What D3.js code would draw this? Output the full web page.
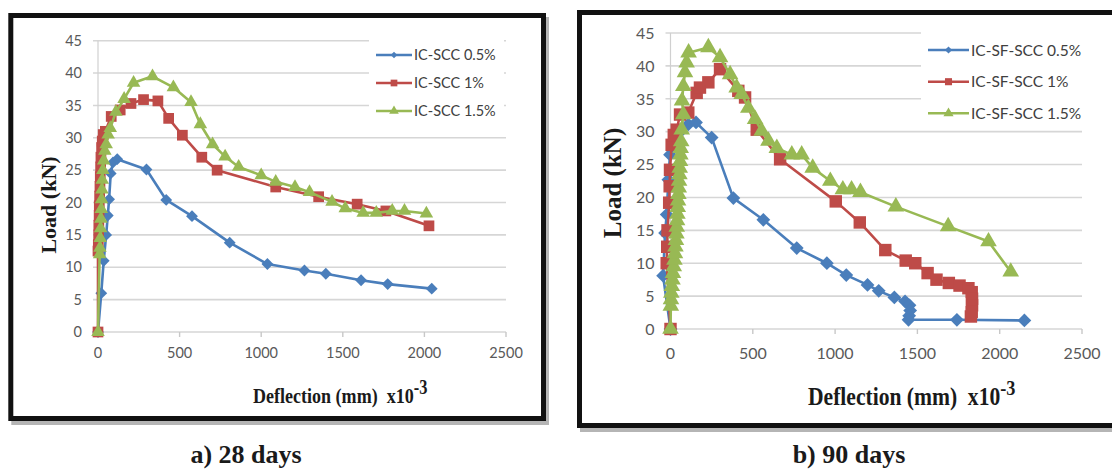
<!DOCTYPE html>
<html>
<head>
<meta charset="utf-8">
<script src="https://cdn.jsdelivr.net/npm/d3@7"></script>
<style>
  html, body { margin: 0; padding: 0; background: #fff; }
  svg { display: block; }
</style>
</head>
<body>
<svg id="chart" width="1112" height="469"></svg>
<script>
// ---------- DATA ----------
const xTickVals = [0, 500, 1000, 1500, 2000, 2500];
const yTickVals = [0, 5, 10, 15, 20, 25, 30, 35, 40, 45];

const legend28 = ["IC-SCC 0.5%", "IC-SCC 1%", "IC-SCC 1.5%"];
const legend90 = ["IC-SF-SCC 0.5%", "IC-SF-SCC 1%", "IC-SF-SCC 1.5%"];
const seriesColors = ["#4a7ebb", "#be4b48", "#98b954"];

// 28 days  [deflection x10^-3 mm, load kN]
const d28_05 = [[0,0],[20,6],[35,11],[50,15],[60,18],[68,20.5],[78,24.5],[92,26.2],[118,26.7],[297,25.1],[418,20.4],[576,17.9],[807,13.8],[1038,10.5],[1265,9.5],[1396,9.0],[1612,8.0],[1775,7.4],[2045,6.7]];
const d28_1 = [[0,0],[0,12.5],[2,13.5],[4,15],[5,16.5],[7,18],[8,19.5],[10,21],[12,22.5],[14,24],[16,25.5],[18,27],[22,28.5],[26,29.5],[32,30.5],[45,31],[81,33.3],[136,34.3],[202,35.3],[279,35.9],[367,35.7],[433,33.0],[517,30.4],[636,27.0],[730,25.0],[1089,22.4],[1352,20.9],[1588,19.75],[1764,18.7],[2028,16.4]];
const d28_15 = [[0,0],[10,12],[12,13],[14,14.5],[16,16],[18,17.5],[20,19],[22,20.5],[24,22],[26,23.5],[30,25],[35,26.5],[42,28],[50,29],[62,30.5],[75,31.5],[110,34],[160,36],[218,38.5],[334,39.5],[462,37.8],[570,35.5],[627,32.1],[702,29.0],[779,27.1],[862,25.5],[1000,24.2],[1089,23.2],[1207,22.4],[1296,21.6],[1434,20.1],[1515,19.1],[1625,18.4],[1705,18.4],[1803,18.7],[1878,18.7],[2012,18.3]];

// 90 days
const d90_05 = [[0,0],[-45,8.1],[-33,14.6],[-23,17.4],[-13,22.7],[-3,26.5],[27,28.6],[60,30],[108,31.1],[155,31.4],[250,29.1],[382,19.9],[564,16.6],[767,12.3],[950,10.0],[1068,8.2],[1197,6.7],[1265,5.8],[1360,4.8],[1425,4.2],[1452,3.6],[1456,2.8],[1450,2.0],[1446,1.4],[1740,1.4],[2150,1.3]];
const d90_1 = [[0,0],[-23,10],[-20,12.5],[-18,15],[-8,19.2],[-5,21.7],[-3,24.2],[7,28],[20,29.5],[38,30.3],[58,32.6],[108,32.9],[159,35.9],[179,36.7],[230,37.5],[301,39.5],[412,36.2],[453,35.2],[524,30.3],[666,25.8],[1004,19.4],[1150,16.2],[1305,12.0],[1429,10.4],[1487,10.0],[1562,8.5],[1616,7.5],[1691,7.0],[1756,6.6],[1810,6.2],[1830,5.6],[1832,4.6],[1832,3.6],[1830,2.6],[1825,1.9]];
const d90_15 = [[0,0],[2,3.5],[3,4.5],[5,5.5],[8,6.5],[12,7.5],[15,8.5],[20,9.5],[24,10.5],[27,11.5],[30,12.5],[33,13.5],[36,14.5],[38,15.5],[40,16.5],[42,17.5],[44,18.5],[46,19.5],[48,20.5],[50,21.5],[52,22.5],[54,23.5],[56,24.5],[58,25.5],[60,26.5],[62,27.5],[65,28.5],[68,30.3],[78,32.6],[70,34.7],[78,36.9],[88,39],[98,40.5],[110,42],[230,42.8],[301,41.3],[362,38.7],[402,36.7],[433,35.7],[473,33.6],[514,31.9],[554,30.1],[595,28.6],[646,27.5],[737,26.5],[797,26.5],[864,24.5],[971,22.5],[1047,21.2],[1100,21.2],[1154,20.8],[1369,18.6],[1687,15.6],[1932,13.3],[2067,8.7]];

// ---------- DRAW ----------
const svg = d3.select("#chart");
svg.append("rect").attr("width", 1112).attr("height", 469).attr("fill", "#fff");

const symbolTypes = [d3.symbolSquare, d3.symbolSquare, d3.symbolTriangle];
const symbolRot = [45, 0, 0];

function drawPanel(cfg) {
  const g = svg.append("g");
  // frame shadow + frame
  g.append("rect")
    .attr("x", cfg.frame[0] + 3).attr("y", cfg.frame[1] + 4)
    .attr("width", cfg.frame[2] - cfg.frame[0]).attr("height", cfg.frame[3] - cfg.frame[1])
    .attr("fill", "none").attr("stroke", "#b5b5b5").attr("stroke-width", 5);
  g.append("rect")
    .attr("x", cfg.frame[0]).attr("y", cfg.frame[1])
    .attr("width", cfg.frame[2] - cfg.frame[0]).attr("height", cfg.frame[3] - cfg.frame[1])
    .attr("fill", "#fff").attr("stroke", "#111").attr("stroke-width", 5);

  const x = d3.scaleLinear().domain([0, 2500]).range([cfg.x0, cfg.x1]);
  const y = d3.scaleLinear().domain([0, 45]).range([cfg.y0, cfg.y1]);

  // gridlines
  g.append("g").selectAll("line").data(yTickVals).join("line")
    .attr("x1", cfg.x0 - 5).attr("x2", cfg.x1)
    .attr("y1", d => y(d)).attr("y2", d => y(d))
    .attr("stroke", "#d6d6d6").attr("stroke-width", 1.6);
  // y axis line
  g.append("line").attr("x1", cfg.x0).attr("x2", cfg.x0)
    .attr("y1", y(0)).attr("y2", y(45)).attr("stroke", "#d0d0d0").attr("stroke-width", 1.2);
  // x ticks
  g.append("g").selectAll("line").data(xTickVals).join("line")
    .attr("x1", d => x(d)).attr("x2", d => x(d))
    .attr("y1", y(0)).attr("y2", y(0) + 5)
    .attr("stroke", "#c8c8c8").attr("stroke-width", 1.4);

  // tick labels
  g.append("g").selectAll("text").data(yTickVals).join("text")
    .attr("x", cfg.x0 - cfg.yLabGap).attr("y", d => y(d))
    .attr("dy", "0.36em").attr("text-anchor", "end")
    .attr("font-family", "Lato, 'Noto Sans', sans-serif")
    .attr("font-size", cfg.tickFont).attr("fill", "#595959")
    .text(d => d);
  g.append("g").selectAll("text").data(xTickVals).join("text")
    .attr("x", d => x(d)).attr("y", cfg.xLabY)
    .attr("dy", "0.36em").attr("text-anchor", "middle")
    .attr("font-family", "Lato, 'Noto Sans', sans-serif")
    .attr("font-size", cfg.tickFont).attr("fill", "#595959")
    .text(d => d);

  // series
  const line = d3.line().x(d => x(d[0])).y(d => y(d[1]));
  cfg.series.forEach((s, i) => {
    g.append("path").datum(s).attr("d", line)
      .attr("fill", "none").attr("stroke", seriesColors[i])
      .attr("stroke-width", 2.6).attr("stroke-linejoin", "round");
    const sym = d3.symbol().type(symbolTypes[i]).size(cfg.markerSizes[i]);
    g.append("g").selectAll("path").data(s).join("path")
      .attr("d", sym)
      .attr("transform", d => `translate(${x(d[0])},${y(d[1])}) rotate(${symbolRot[i]})`)
      .attr("fill", seriesColors[i]);
  });

  // legend
  g.append("rect").attr("x", cfg.legBox[0]).attr("y", cfg.legBox[1])
    .attr("width", cfg.legBox[2]).attr("height", cfg.legBox[3]).attr("fill", "#fff");
  cfg.legend.forEach((name, i) => {
    const ly = cfg.legY[i];
    g.append("line").attr("x1", cfg.legX).attr("x2", cfg.legX + cfg.legLen)
      .attr("y1", ly).attr("y2", ly).attr("stroke", seriesColors[i]).attr("stroke-width", 2.6);
    const sym = d3.symbol().type(symbolTypes[i]).size(cfg.legMarker[i]);
    g.append("path").attr("d", sym)
      .attr("transform", `translate(${cfg.legX + cfg.legLen / 2},${ly}) rotate(${symbolRot[i]})`)
      .attr("fill", seriesColors[i]);
    g.append("text").attr("x", cfg.legX + cfg.legLen + 2).attr("y", ly).attr("dy", "0.36em")
      .attr("font-family", "Lato, 'Noto Sans', sans-serif")
      .attr("font-size", cfg.legFont).attr("fill", "#404040").text(name);
  });

  // x axis title
  const xt = g.append("text")
    .attr("transform", `translate(${cfg.xTitle[0]},${cfg.xTitle[1]}) scale(${cfg.titleSX},1)`)
    .attr("font-family", "'Liberation Serif', 'DejaVu Serif', serif")
    .attr("font-weight", "bold").attr("font-size", cfg.titleFont).attr("fill", "#1a1a1a");
  xt.append("tspan").text("Deflection (mm)\u00a0\u00a0x10");
  xt.append("tspan").attr("dy", -cfg.supRaise).attr("font-size", cfg.supFont).text("-3");

  // y axis title
  g.append("text")
    .attr("transform", `translate(${cfg.yTitle[0]},${cfg.yTitle[1]}) rotate(-90)`)
    .attr("text-anchor", "middle")
    .attr("font-family", "'Liberation Serif', 'DejaVu Serif', serif")
    .attr("font-weight", "bold").attr("font-size", cfg.yTitleFont).attr("fill", "#1a1a1a")
    .text("Load (kN)");

  // caption
  g.append("text").attr("x", cfg.caption[0]).attr("y", cfg.caption[1])
    .attr("text-anchor", "middle")
    .attr("font-family", "'Liberation Serif', 'DejaVu Serif', serif")
    .attr("font-weight", "bold").attr("font-size", 26).attr("fill", "#1a1a1a")
    .text(cfg.captionText);
}

drawPanel({
  frame: [10.8, 15.5, 543.5, 418.5],
  x0: 98, x1: 506, y0: 332, y1: 40.7,
  tickFont: 14.5, yLabGap: 16, xLabY: 353,
  series: [d28_05, d28_1, d28_15],
  markerSizes: [70, 115, 80],
  legend: legend28, legBox: [369, 33, 135, 90], legX: 376, legLen: 36, legY: [55, 83, 111],
  legMarker: [22, 45, 40], legFont: 14.5,
  xTitle: [253, 403], titleSX: 0.82, titleFont: 22, supFont: 20, supRaise: 9,
  yTitle: [56, 205], yTitleFont: 22,
  caption: [246, 463], captionText: "a) 28 days"
});

drawPanel({
  frame: [579.5, 12.5, 1125, 425.5],
  x0: 670.5, x1: 1082, y0: 329, y1: 33,
  tickFont: 16, yLabGap: 16, xLabY: 353,
  series: [d90_05, d90_1, d90_15],
  markerSizes: [95, 155, 120],
  legend: legend90, legBox: [921, 28, 170, 96], legX: 928, legLen: 41, legY: [50, 81.7, 113.3],
  legMarker: [26, 50, 45], legFont: 15.5,
  xTitle: [808, 405], titleSX: 0.83, titleFont: 26, supFont: 22, supRaise: 10,
  yTitle: [621, 183], yTitleFont: 25,
  caption: [849, 463], captionText: "b) 90 days"
});
</script>
</body>
</html>
